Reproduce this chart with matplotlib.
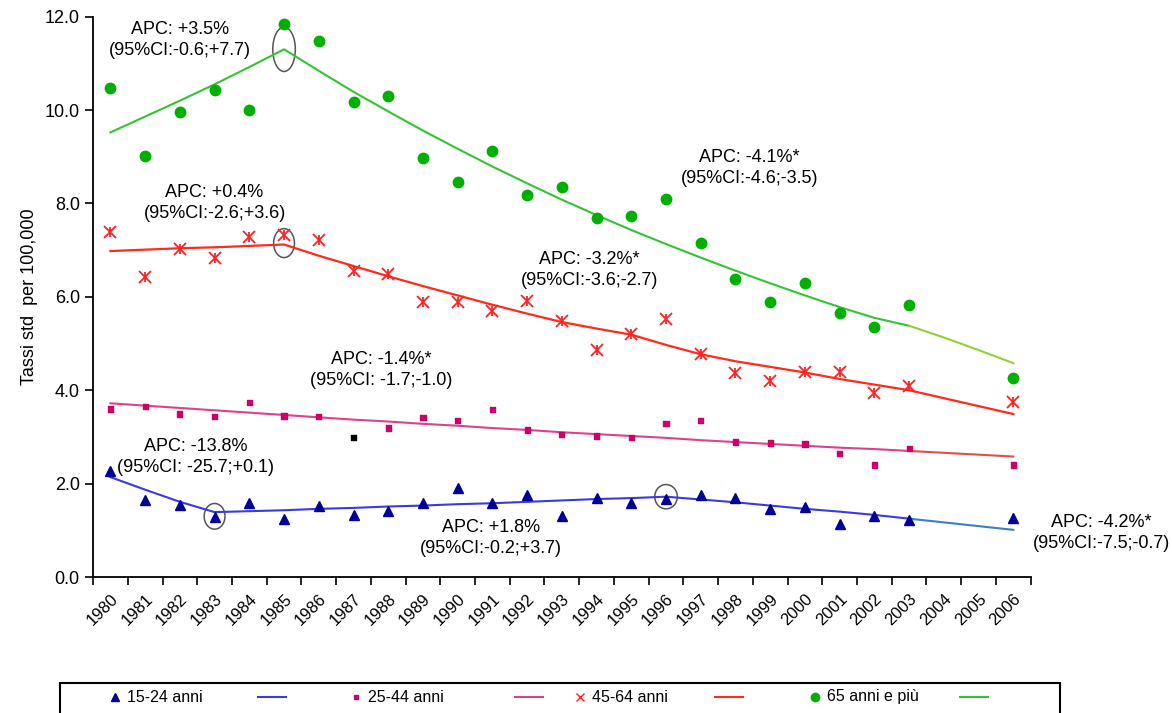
import matplotlib.pyplot as plt
from matplotlib.patches import Ellipse, Rectangle
from matplotlib.lines import Line2D
import numpy as np

plt.rcParams['font.family'] = ['Liberation Sans', 'DejaVu Sans']

# observed years (no data for 2004, 2005)
obs_years = [1980, 1981, 1982, 1983, 1984, 1985, 1986, 1987, 1988, 1989, 1990, 1991,
             1992, 1993, 1994, 1995, 1996, 1997, 1998, 1999, 2000, 2001, 2002, 2003, 2006]
fit_years = list(range(1980, 2007))
year_labels = [str(y) for y in fit_years]

# 15-24 anni
obs_1524 = [2.27, 1.65, 1.54, 1.29, 1.58, 1.24, 1.52, 1.33, 1.41, 1.58, 1.91, 1.59,
            1.76, 1.31, 1.69, 1.58, 1.67, 1.76, 1.69, 1.46, 1.50, 1.14, 1.31, 1.22, 1.26]
fit_1524 = [2.14, 1.87, 1.61, 1.39, 1.41, 1.43, 1.46, 1.48, 1.51, 1.53, 1.56, 1.58, 1.61,
            1.64, 1.67, 1.69, 1.72, 1.66, 1.60, 1.53, 1.46, 1.40, 1.33, 1.25, 1.17, 1.09, 1.01]

# 25-44 anni (1987 point is drawn black in the original)
obs_2544 = [3.60, 3.66, 3.49, 3.43, 3.73, 3.45, 3.43, 2.98, 3.19, 3.41, 3.35, 3.58,
            3.15, 3.06, 3.02, 2.98, 3.28, 3.35, 2.89, 2.87, 2.85, 2.64, 2.40, 2.76, 2.40]
fit_2544 = [3.72, 3.67, 3.62, 3.57, 3.52, 3.47, 3.42, 3.37, 3.33, 3.28, 3.24, 3.19, 3.15,
            3.10, 3.06, 3.02, 2.98, 2.93, 2.89, 2.85, 2.81, 2.77, 2.74, 2.70, 2.66, 2.62, 2.58]

# 45-64 anni
obs_4564 = [7.39, 6.43, 7.03, 6.84, 7.29, 7.33, 7.22, 6.56, 6.49, 5.89, 5.89, 5.70,
            5.91, 5.49, 4.86, 5.21, 5.53, 4.78, 4.37, 4.20, 4.39, 4.39, 3.94, 4.09, 3.75]
fit_4564 = [6.98, 7.01, 7.04, 7.06, 7.09, 7.12, 6.88, 6.66, 6.44, 6.23, 6.03, 5.83, 5.64,
            5.46, 5.32, 5.19, 4.97, 4.77, 4.62, 4.50, 4.38, 4.24, 4.12, 4.00, 3.83, 3.66, 3.49]

# 65 anni e piu
obs_65 = [10.48, 9.02, 9.96, 10.43, 10.01, 11.85, 11.48, 10.18, 10.31, 8.98, 8.46, 9.13,
          8.19, 8.36, 7.69, 7.74, 8.10, 7.16, 6.39, 5.89, 6.30, 5.66, 5.36, 5.83, 4.26]
fit_65 = [9.52, 9.86, 10.20, 10.55, 10.92, 11.30, 10.84, 10.39, 9.97, 9.56, 9.17, 8.79, 8.43,
          8.08, 7.75, 7.43, 7.13, 6.84, 6.56, 6.29, 6.03, 5.78, 5.55, 5.38, 5.13, 4.86, 4.58]

apc_texts = [
    (1982.0, 11.5, "APC: +3.5%\n(95%CI:-0.6;+7.7)"),
    (1983.0, 8.0, "APC: +0.4%\n(95%CI:-2.6;+3.6)"),
    (1998.4, 8.76, "APC: -4.1%*\n(95%CI:-4.6;-3.5)"),
    (1993.8, 6.58, "APC: -3.2%*\n(95%CI:-3.6;-2.7)"),
    (1987.8, 4.43, "APC: -1.4%*\n(95%CI: -1.7;-1.0)"),
    (1982.45, 2.57, "APC: -13.8%\n(95%CI: -25.7;+0.1)"),
    (1990.95, 0.84, "APC: +1.8%\n(95%CI:-0.2;+3.7)"),
]
right_text = "APC: -4.2%*\n(95%CI:-7.5;-0.7)"

# joinpoints circled in grey
circles = [(1985, 11.3, 0.65, 0.95), (1985, 7.15, 0.6, 0.62),
           (1983, 1.3, 0.6, 0.55), (1996, 1.72, 0.65, 0.52)]

fig = plt.figure(figsize=(11.72, 7.13), dpi=100)
ax = fig.add_axes([0.0794, 0.1907, 0.800, 0.786])

cut = fit_years.index(2003) + 1

# fitted lines (segment after 2003 drawn in a lighter tone)
ax.plot(fit_years[:cut], fit_1524[:cut], color='#3a3ae0', lw=1.5)
ax.plot(fit_years[cut - 1:], fit_1524[cut - 1:], color='#3d7fc0', lw=1.5)
ax.plot(fit_years[:cut], fit_2544[:cut], color='#e0408a', lw=1.5)
ax.plot(fit_years[cut - 1:], fit_2544[cut - 1:], color='#e0504a', lw=1.5)
ax.plot(fit_years, fit_4564, color='#ff2a1a', lw=1.6)
ax.plot(fit_years[:cut], fit_65[:cut], color='#33c433', lw=1.5)
ax.plot(fit_years[cut - 1:], fit_65[cut - 1:], color='#9acd32', lw=1.5)

# observed points
ax.plot(obs_years, obs_1524, '^', color='#000099', ms=7, ls='none')
pink_colors = ['#cc0066'] * len(obs_years)
pink_colors[obs_years.index(1987)] = 'black'
ax.scatter(obs_years, obs_2544, marker='s', s=14, c=pink_colors, zorder=3)
ax.plot(obs_years, obs_4564, 'x', color='#ff2020', ms=8, mew=1.3, ls='none')
ax.plot(obs_years, obs_4564, '|', color='#ff2020', ms=7, mew=1.3, ls='none')
ax.plot(obs_years, obs_65, 'o', color='#00b000', ms=7.5, ls='none')

for cx, cy, w, h in circles:
    ax.add_patch(Ellipse((cx, cy), w, h, fill=False, edgecolor='#555555', lw=1.1))

for tx, ty, s in apc_texts:
    ax.text(tx, ty, s, ha='center', va='center', fontsize=13, clip_on=False,
            linespacing=1.3)
fig.text(1170 / 1172, 1 - 533 / 713, right_text, ha='right', va='center',
         fontsize=13, linespacing=1.3, multialignment='center')

ax.set_xlim(1979.5, 2006.5)
ax.set_ylim(0, 12)
ax.set_yticks(np.arange(0, 12.1, 2.0))
ax.set_yticklabels([f"{v:.1f}" for v in np.arange(0, 12.1, 2.0)], fontsize=13)
ax.set_xticks(np.arange(1979.5, 2007, 1.0))
ax.set_xticklabels([])
ax.set_xticks(fit_years, minor=True)
ax.set_xticklabels(year_labels, minor=True, rotation=45, ha='right', va='top',
                   rotation_mode='anchor', fontsize=12)
ax.tick_params(axis='x', which='minor', length=0, pad=10)
ax.tick_params(axis='x', which='major', length=6, width=1.2, direction='out')
ax.tick_params(axis='y', length=6, width=1.2, direction='out')
ax.spines['top'].set_visible(False)
ax.spines['right'].set_visible(False)
ax.spines['left'].set_linewidth(1.3)
ax.spines['bottom'].set_linewidth(1.3)
ax.set_ylabel("Tassi std  per 100,000", fontsize=13, labelpad=5)

# legend box drawn by hand below the plot
W, H = 1172.0, 713.0
fig.add_artist(Rectangle((60 / W, -0.02), (1060 - 60) / W, (713 - 683) / H + 0.02,
                         transform=fig.transFigure, fill=False, edgecolor='black', lw=1.5))
leg_names = ["15-24 anni", "25-44 anni", "45-64 anni", "65 anni e più"]
leg_markers = [('^', '#000099', 6), ('s', '#cc0066', 3.5), ('x', '#ff2020', 6), ('o', '#00b000', 6)]
leg_lines = ['#3a3ae0', '#e0408a', '#ff2a1a', '#33c433']
leg_x = [115, 356, 580, 815]
leg_line_x = [258, 515, 715, 960]
ly = 1 - 697 / H
for name, (m, c, ms), lc, mx, lx in zip(leg_names, leg_markers, leg_lines, leg_x, leg_line_x):
    fig.add_artist(Line2D([mx / W], [ly], marker=m, color=c, ms=ms, ls='none',
                          transform=fig.transFigure))
    fig.text((mx + 12) / W, ly, name, fontsize=11.5, va='center', ha='left')
    fig.add_artist(Line2D([lx / W, (lx + 28) / W], [ly, ly], color=lc, lw=1.5,
                          transform=fig.transFigure))

fig.savefig("out.png", dpi=100)
